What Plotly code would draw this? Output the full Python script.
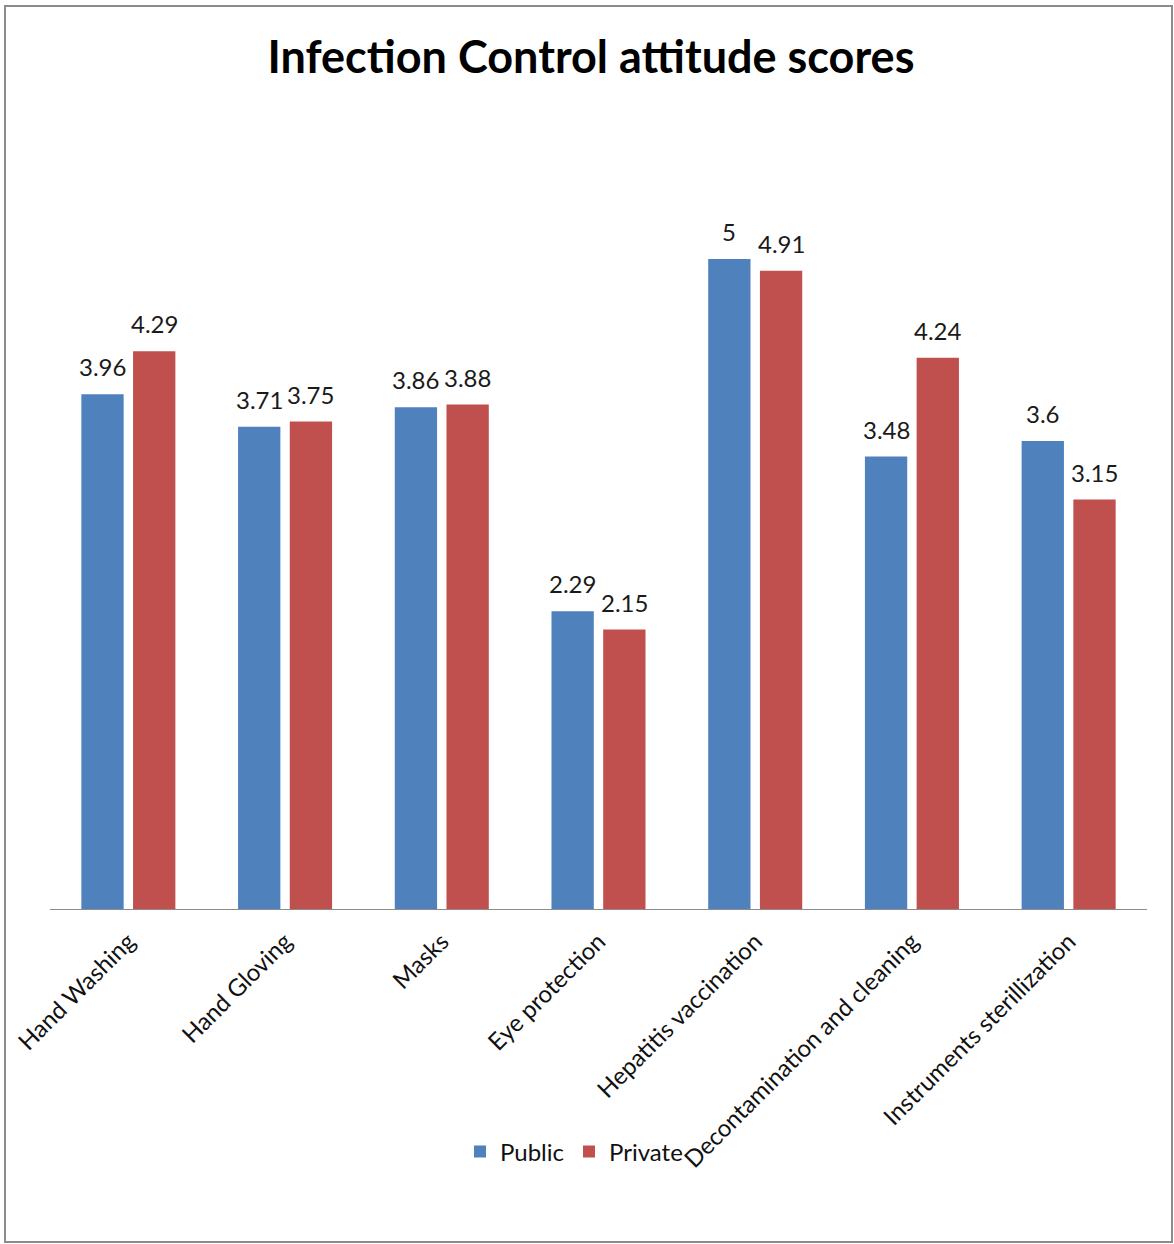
import plotly.graph_objects as go

# Attitude scores per infection-control topic, public vs private sector
categories = [
    "Hand Washing",
    "Hand Gloving",
    "Masks",
    "Eye protection",
    "Hepatitis vaccination",
    "Decontamination and cleaning",
    "Instruments sterillization",
]
public_scores = [3.96, 3.71, 3.86, 2.29, 5, 3.48, 3.6]
private_scores = [4.29, 3.75, 3.88, 2.15, 4.91, 4.24, 3.15]

series = [
    ("Public", public_scores, "#4F81BD", -0.30),
    ("Private", private_scores, "#C0504D", 0.03),
]

BAR_W = 0.27
FONT = "Lato, 'Open Sans', Arial, sans-serif"
positions = list(range(len(categories)))

fig = go.Figure()
annotations = []
for name, values, color, offset in series:
    fig.add_trace(go.Bar(
        name=name,
        x=positions,
        y=values,
        width=BAR_W,
        offset=offset,
        marker=dict(color=color, line=dict(width=0)),
    ))
    # value labels centred over each bar
    for xi, v in zip(positions, values):
        annotations.append(dict(
            x=xi + offset + BAR_W / 2, y=v, xref="x", yref="y",
            text=f"{v:g}", showarrow=False,
            xanchor="center", yanchor="bottom", yshift=11,
            font=dict(family=FONT, size=24, color="#1a1a1a"),
        ))

# chart border
border = [dict(
    type="rect", xref="paper", yref="paper",
    x0=(5 - 50) / 1097, x1=(1172 - 50) / 1097,
    y0=(909 - 1242) / 780, y1=(909 - 6) / 780,
    line=dict(color="#8c8c8c", width=2), fillcolor="rgba(0,0,0,0)",
    layer="below",
)]

fig.update_layout(
    width=1174, height=1244,
    margin=dict(l=50, r=27, t=129, b=335, pad=0),
    paper_bgcolor="white", plot_bgcolor="white",
    title=dict(
        text="<b>Infection Control attitude scores</b>",
        x=591 / 1174, xanchor="center", xref="container",
        y=1 - 57 / 1244, yanchor="middle", yref="container",
        font=dict(family=FONT, size=45, color="#000000"),
    ),
    xaxis=dict(
        range=[-0.5, len(categories) - 0.5],
        tickmode="array", tickvals=positions, ticktext=categories,
        tickangle=-45,
        tickfont=dict(family=FONT, size=24, color="#111111"),
        ticklabelstandoff=8,
        showline=True, linecolor="#8c8c8c", linewidth=1,
        showgrid=False, zeroline=False, ticks="",
        fixedrange=True,
    ),
    yaxis=dict(range=[0, 6], visible=False, showgrid=False, zeroline=False),
    barmode="group",
    showlegend=True,
    legend=dict(
        orientation="h", x=(460 - 50) / 1097, xanchor="left",
        y=(909 - 1152) / 780, yanchor="middle",
        font=dict(family=FONT, size=24, color="#111111"),
        bgcolor="rgba(0,0,0,0)", itemwidth=30,
    ),
    annotations=annotations,
    shapes=border,
)

fig.write_html("out.html")
